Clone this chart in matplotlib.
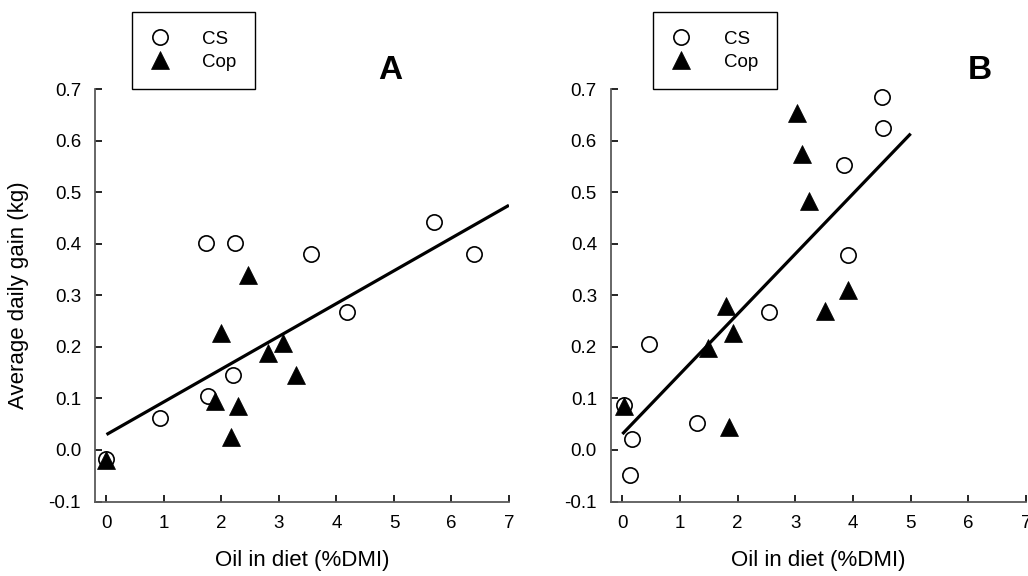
import matplotlib
matplotlib.use("Agg")
from matplotlib import pyplot

"""
Average daily gain against dietary oil, two experiments (A and B)
"""

pyplot.rcParams['font.family'] = ['Liberation Sans', 'DejaVu Sans']

# panel A
a_cs_oil = [0.0, 0.93, 1.73, 2.24, 1.77, 2.20, 3.565, 4.18, 5.69, 6.39]
a_cs_gain = [-0.018, 0.063, 0.401, 0.401, 0.104, 0.146, 0.380, 0.268, 0.442, 0.380]
a_cop_oil = [0.0, 2.46, 1.99, 2.81, 3.07, 3.30, 1.88, 2.28, 2.17]
a_cop_gain = [-0.02, 0.340, 0.228, 0.188, 0.208, 0.146, 0.096, 0.085, 0.025]
a_fit_oil = [0.0, 7.0]
a_fit_gain = [0.030, 0.475]

# panel B
b_cs_oil = [0.02, 0.16, 0.13, 0.46, 1.29, 2.55, 3.85, 3.92, 4.51, 4.52]
b_cs_gain = [0.088, 0.022, -0.049, 0.206, 0.053, 0.267, 0.553, 0.379, 0.686, 0.624]
b_cop_oil = [0.02, 1.48, 1.79, 1.91, 1.85, 3.03, 3.12, 3.23, 3.51, 3.92]
b_cop_gain = [0.086, 0.198, 0.280, 0.228, 0.045, 0.655, 0.575, 0.483, 0.270, 0.310]
b_fit_oil = [0.0, 5.0]
b_fit_gain = [0.031, 0.614]

x_ticks = [0, 1, 2, 3, 4, 5, 6, 7]
y_ticks = [-0.1, 0.0, 0.1, 0.2, 0.3, 0.4, 0.5, 0.6, 0.7]
y_tick_labels = ['-0.1', '0.0', '0.1', '0.2', '0.3', '0.4', '0.5', '0.6', '0.7']


def draw_panel(ax, cs_oil, cs_gain, cop_oil, cop_gain, fit_oil, fit_gain,
               letter, letter_x, legend_x):
    ax.plot(fit_oil, fit_gain, color='black', linewidth=2.3,
            solid_capstyle='butt', zorder=2)
    ax.plot(cs_oil, cs_gain, linestyle='none', marker='o', markersize=11,
            markerfacecolor='white', markeredgecolor='black',
            markeredgewidth=1.2, label='CS', zorder=3)
    ax.plot(cop_oil, cop_gain, linestyle='none', marker='^', markersize=12.5,
            markerfacecolor='black', markeredgecolor='black',
            markeredgewidth=0.5, label='Cop', zorder=4)

    ax.set_xlim(-0.2, 7.0)
    ax.set_ylim(-0.1, 0.7)
    ax.set_xticks(x_ticks)
    ax.set_yticks(y_ticks)
    ax.set_yticklabels(y_tick_labels)
    for side in ['top', 'right']:
        ax.spines[side].set_visible(False)
    for side in ['left', 'bottom']:
        ax.spines[side].set_color('#5a5a5a')
        ax.spines[side].set_linewidth(1.3)
    ax.tick_params(direction='in', length=5, width=1.2, color='black',
                   labelsize=13.5, pad=10)

    ax.set_xlabel('Oil in diet (%DMI)', fontsize=16)
    ax.xaxis.set_label_coords(0.5, -0.118)

    ax.text(letter_x, 1.046, letter, transform=ax.transAxes,
            fontsize=24, fontweight='bold', ha='center', va='center')

    # legend sits on top of the plotting area, touching the axes top
    leg = ax.legend(loc='lower left', bbox_to_anchor=(legend_x, 1.0),
                    borderaxespad=0., fontsize=13.5, frameon=True,
                    fancybox=False, edgecolor='black', framealpha=1,
                    handlelength=1.0, handletextpad=1.75, borderpad=1.0,
                    labelspacing=0.3, numpoints=1)
    leg.get_frame().set_linewidth(1.0)


fig = pyplot.figure(figsize=(10.28, 5.76), dpi=100)
ax_a = fig.add_axes([0.0924, 0.1293, 0.4027, 0.7156])
ax_b = fig.add_axes([0.5942, 0.1293, 0.4039, 0.7156])

draw_panel(ax_a, a_cs_oil, a_cs_gain, a_cop_oil, a_cop_gain,
           a_fit_oil, a_fit_gain, 'A', 0.714, 0.089)
draw_panel(ax_b, b_cs_oil, b_cs_gain, b_cop_oil, b_cop_gain,
           b_fit_oil, b_fit_gain, 'B', 0.889, 0.102)

ax_a.set_ylabel('Average daily gain (kg)', fontsize=16)
ax_a.yaxis.set_label_coords(-0.16, 0.5)

fig.savefig('out.png', dpi=100)
